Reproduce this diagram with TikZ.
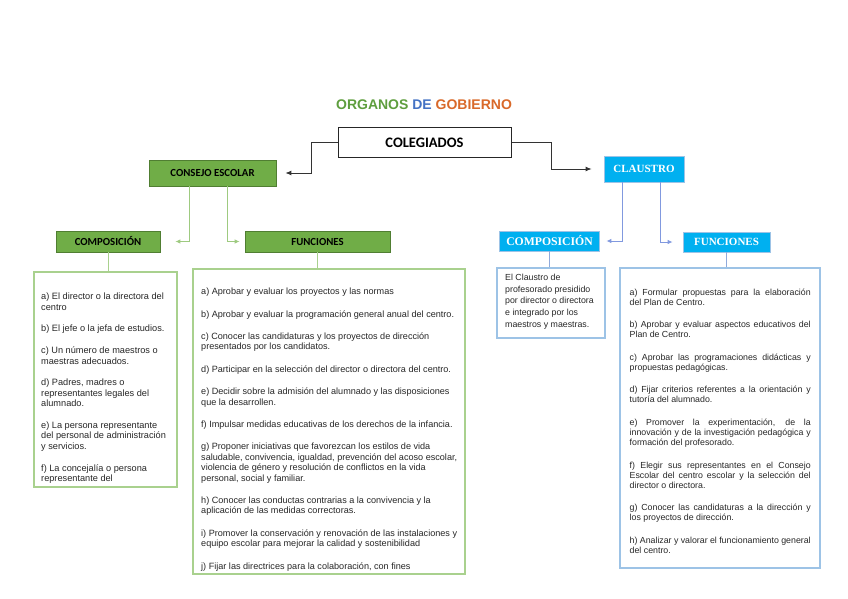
\documentclass[tikz,border=0pt]{standalone}
\usepackage{fontspec}
\setmainfont{Liberation Sans}
\newfontfamily\calibrihead{Carlito}
\newfontfamily\serifhead{Liberation Serif}
\usetikzlibrary{arrows.meta}

\definecolor{gfill}{HTML}{70AD47}
\definecolor{gborder}{HTML}{507E32}
\definecolor{glight}{HTML}{A9D18E}
\definecolor{bfill}{HTML}{00B0F0}
\definecolor{blight}{HTML}{9DC3E6}
\definecolor{bline}{HTML}{8FAADC}
\definecolor{tgreen}{HTML}{5E9E3E}
\definecolor{tblue}{HTML}{4472C4}
\definecolor{torange}{HTML}{D9692A}

\begin{document}
\begin{tikzpicture}[x=1pt, y=-1pt,
  ghead/.style={draw=gborder, fill=gfill, line width=0.8pt, inner sep=0pt,
    font=\calibrihead\bfseries\fontsize{10.8}{12}\selectfont},
  bhead/.style={draw=blight, fill=bfill, line width=0.8pt, inner sep=0pt, text=white,
    font=\serifhead\bfseries\fontsize{11}{12}\selectfont},
  gbox/.style={draw=glight, line width=1.3pt, inner sep=0pt},
  bbox/.style={draw=blight, line width=1.3pt, inner sep=0pt},
  bodytxt/.style={inner sep=0pt, anchor=north west, text=black!85},
  gline/.style={draw=glight, line width=0.9pt},
  bline/.style={draw=bline, line width=0.9pt},
  garrow/.style={gline, -{Latex[length=5pt,width=4.5pt]}, color=glight!80!gfill},
  barrow/.style={bline, -{Latex[length=5pt,width=4.5pt]}, color=bline!90!blue},
  karrow/.style={draw=black!80, line width=0.9pt, -{Latex[length=6pt,width=5pt]}}]
  \useasboundingbox (0,0) rectangle (848,599);

  % Title
  \node[font=\bfseries\fontsize{14}{16}\selectfont] (title) at (424,105)
    {\textcolor{tgreen}{ORGANOS} \textcolor{tblue}{DE} \textcolor{torange}{GOBIERNO}};

  % Top box
  \node[draw=black!85, line width=1pt, minimum width=173, minimum height=29, inner sep=0pt,
    font=\calibrihead\bfseries\fontsize{14.5}{16}\selectfont] (coleg) at (424.5,142.5) {COLEGIADOS};

  % Header boxes
  \node[ghead, minimum width=127, minimum height=26] (consejo) at (212.5,173) {CONSEJO ESCOLAR};
  \node[ghead, minimum width=104, minimum height=21] (compG) at (108,241.5) {COMPOSICIÓN};
  \node[ghead, minimum width=145, minimum height=21] (funcG) at (317.5,241.5) {FUNCIONES};
  \node[bhead, minimum width=80, minimum height=26] (claustro) at (644,169) {CLAUSTRO};
  \node[bhead, minimum width=100, minimum height=20, font=\serifhead\bfseries\fontsize{11.7}{12}\selectfont] (compB) at (549.5,241) {COMPOSICIÓN};
  \node[bhead, minimum width=87, minimum height=20] (funcB) at (726.5,242) {FUNCIONES};

  % Text boxes
  \node[gbox, minimum width=143, minimum height=215] (compGbox) at (105.5,379.5) {};
  \node[gbox, minimum width=272, minimum height=305] (funcGbox) at (329,421.5) {};
  \node[bbox, minimum width=108, minimum height=70] (compBbox) at (551,303) {};
  \node[bbox, minimum width=200, minimum height=300] (funcBbox) at (720,418) {};

  % Texts
  \node[bodytxt, align=left, font=\fontsize{9.2}{10.7}\selectfont] (compGtxt) at (41,293)
    {a) El director o la directora del\\ centro\\[10.7pt]
     b) El jefe o la jefa de estudios.\\[10.7pt]
     c) Un número de maestros o\\ maestras adecuados.\\[10.7pt]
     d) Padres, madres o\\ representantes legales del\\ alumnado.\\[10.7pt]
     e) La persona representante\\ del personal de administración\\ y servicios.\\[10.7pt]
     f) La concejalía o persona\\ representante del};
  \node[bodytxt, align=left, font=\fontsize{9.1}{10.5}\selectfont] (funcGtxt) at (201,288)
    {a) Aprobar y evaluar los proyectos y las normas\\[11.8pt]
     b) Aprobar y evaluar la programación general anual del centro.\\[11.8pt]
     c) Conocer las candidaturas y los proyectos de dirección\\ presentados por los candidatos.\\[11.8pt]
     d) Participar en la selección del director o directora del centro.\\[11.8pt]
     e) Decidir sobre la admisión del alumnado y las disposiciones\\ que la desarrollen.\\[11.8pt]
     f) Impulsar medidas educativas de los derechos de la infancia.\\[11.8pt]
     g) Proponer iniciativas que favorezcan los estilos de vida\\ saludable, convivencia, igualdad, prevención del acoso escolar,\\ violencia de género y resolución de conflictos en la vida\\ personal, social y familiar.\\[11.8pt]
     h) Conocer las conductas contrarias a la convivencia y la\\ aplicación de las medidas correctoras.\\[11.8pt]
     i) Promover la conservación y renovación de las instalaciones y\\ equipo escolar para mejorar la calidad y sostenibilidad\\[11.8pt]
     j) Fijar las directrices para la colaboración, con fines};
  \node[bodytxt, align=left, font=\fontsize{8.8}{11.7}\selectfont] (compBtxt) at (505,274)
    {El Claustro de\\ profesorado presidido\\ por director o directora\\ e integrado por los\\ maestros y maestras.};
  \node[bodytxt, text width=181, align=justify, font=\fontsize{8.8}{10}\selectfont] (funcBtxt) at (629.5,288.5)
    {a) Formular propuestas para la elaboración\linebreak del Plan de Centro.\\[12.6pt]
     b) Aprobar y evaluar aspectos educativos del\linebreak Plan de Centro.\\[12.6pt]
     c) Aprobar las programaciones didácticas y\linebreak propuestas pedagógicas.\\[12.6pt]
     d) Fijar criterios referentes a la orientación y\linebreak tutoría del alumnado.\\[12.6pt]
     e) Promover la experimentación, de la\linebreak innovación y de la investigación pedagógica y\linebreak formación del profesorado.\\[12.6pt]
     f) Elegir sus representantes en el Consejo\linebreak Escolar del centro escolar y la selección del\linebreak director o directora.\\[12.6pt]
     g) Conocer las candidaturas a la dirección y\linebreak los proyectos de dirección.\\[12.6pt]
     h) Analizar y valorar el funcionamiento general\linebreak del centro.};

  % Connectors from the top box
  \draw[karrow, shorten >=9pt] (coleg.west) -- ++(-26,0) |- (consejo.east);
  \draw[karrow, shorten >=12pt] (coleg.east) -- ++(40,0) |- (claustro.west);

  % Connectors to the headers
  \draw[garrow, shorten >=15pt] ([xshift=-23.5pt]consejo.south) |- (compG.east);
  \draw[garrow, shorten >=5pt] ([xshift=14.5pt]consejo.south) |- (funcG.west);
  \draw[barrow, shorten >=6.5pt] ([xshift=-22pt]claustro.south) |- (compB.east);
  \draw[barrow, shorten >=10pt] ([xshift=16pt]claustro.south) |- (funcB.west);

  % Connectors to the text boxes
  \draw[gline] (compG.south) -- (compG.south |- compGbox.north);
  \draw[gline] (funcG.south) -- (funcG.south |- funcGbox.north);
  \draw[bline] (compB.south) -- (compB.south |- compBbox.north);
  \draw[bline] (funcB.south) -- (funcB.south |- funcBbox.north);
\end{tikzpicture}
\end{document}
